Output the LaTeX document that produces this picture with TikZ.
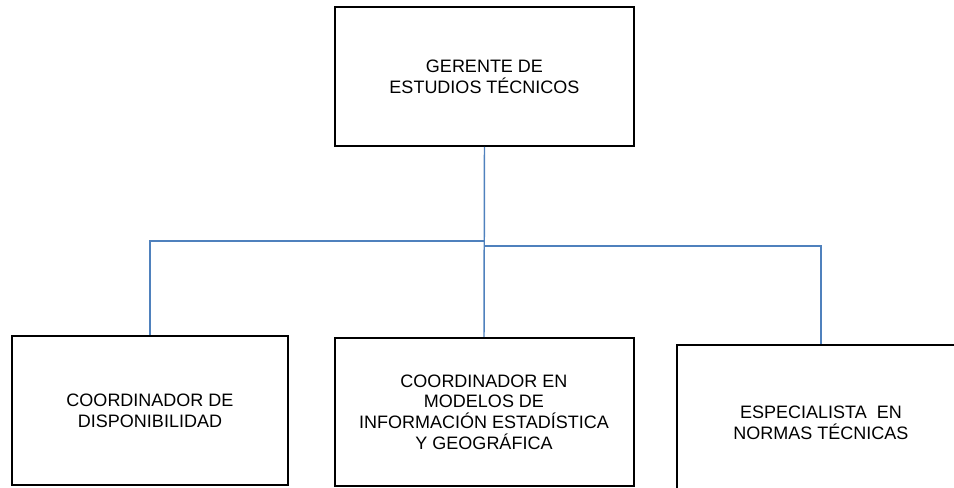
\documentclass[tikz,border=0pt]{standalone}
\usepackage{fontspec}
\setmainfont{Liberation Sans}
\usepackage{tikz}
\usetikzlibrary{arrows.meta}
\definecolor{linkblue}{RGB}{79,129,189}
\tikzset{
  box/.style={draw=black, line width=1.5pt, align=center, inner sep=0pt,
    font=\fontsize{13.5}{15.5}\selectfont},
  link/.style={draw=linkblue, line width=1.1pt}
}

\begin{document}
\begin{tikzpicture}[x=0.75pt, y=-0.75pt]
    \clip (0,0) rectangle (954,488);

    \node[box, minimum width=224.25pt, minimum height=104.25pt] (GER) at (484.5,76.5) {GERENTE DE\\ESTUDIOS TÉCNICOS};

    \node[box, minimum width=207pt, minimum height=111.75pt] (DISP) at (150,410.5) {COORDINADOR DE\\DISPONIBILIDAD};
    \node[box, minimum width=224.25pt, minimum height=111pt] (MOD) at (484,412) {COORDINADOR EN\\MODELOS DE\\INFORMACIÓN ESTADÍSTICA\\Y GEOGRÁFICA};
    \node[box, minimum width=216pt, minimum height=117pt] (NORM) at (821,423) {ESPECIALISTA~~EN\\NORMAS TÉCNICAS};

    \coordinate (split-l) at (484,241);
    \coordinate (split-r) at (484,246);

    \draw[link] (GER.south) -- (MOD.north);
    \draw[link] (split-l) -| (DISP.north);
    \draw[link] (split-r) -| (NORM.north);

  \end{tikzpicture}
\end{document}
